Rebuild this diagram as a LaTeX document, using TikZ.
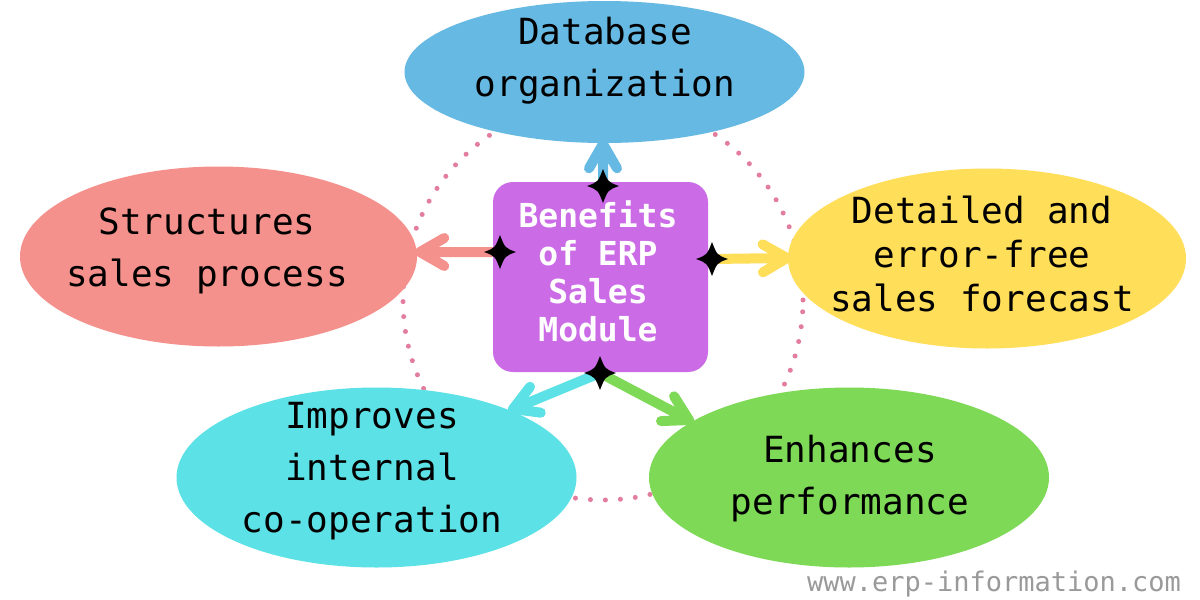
\documentclass[tikz,border=0pt]{standalone}
\usepackage{fontspec}
\setmonofont{DejaVu Sans Mono}
\usetikzlibrary{shapes.geometric,calc}
\definecolor{cblue}{HTML}{66B9E2}
\definecolor{csalmon}{HTML}{F5918D}
\definecolor{cyellow}{HTML}{FFDE59}
\definecolor{ccyan}{HTML}{5CE1E6}
\definecolor{cgreen}{HTML}{7ED957}
\definecolor{cpurple}{HTML}{CB6CE6}
\definecolor{cdots}{HTML}{E27D9E}
\definecolor{cmark}{HTML}{9A9A9A}
\tikzset{
  bubble/.style={ellipse, inner sep=0pt, minimum width=400pt, minimum height=180pt},
  bubbletext/.style={align=center, text=black, inner sep=0pt,
    font=\ttfamily\fontsize{36}{52}\selectfont},
  conn/.style={line width=10pt, line cap=round, line join=round},
  sparkle/.pic={\fill[black] (16,0) .. controls (5,4) .. (0,17)
     .. controls (-5,4) .. (-16,0) .. controls (-5,-4) .. (0,-17)
     .. controls (5,-4) .. (16,0) -- cycle;}
}
\newcommand{\connector}[3]{%
  \draw[conn, #1] (#2) -- (#3)
    ($(#3)!28pt!30:(#2)$) -- (#3) -- ($(#3)!28pt!-30:(#2)$);}
\begin{document}
\begin{tikzpicture}[x=1pt,y=-1pt]
\useasboundingbox (0,0) rectangle (1200,600);
\fill[white] (0,0) rectangle (1200,600);
% dotted circle
\draw[cdots, line width=5pt, line cap=round, dash pattern=on 0pt off 15pt]
  (603,300) circle[radius=200pt];
% ellipses
\node[bubble, fill=cblue, minimum height=142pt] (top) at (604.5,72) {};
\node[bubble, fill=csalmon, minimum width=397pt] (left) at (218.5,256.5) {};
\node[bubble, fill=cyellow, minimum width=398pt] (right) at (987,258.5) {};
\node[bubble, fill=ccyan] (bl) at (376.5,477.5) {};
\node[bubble, fill=cgreen] (br) at (849,477.5) {};
% texts
\node[bubbletext] (toptext) at (605,61) {Database\\organization};
\node[bubbletext] (lefttext) at (207,251) {Structures\\sales process};
\node[bubbletext, font=\ttfamily\fontsize{36}{44}\selectfont] (righttext) at (982,254) {Detailed and\\error-free\\sales forecast};
\node[bubbletext] (bltext) at (372,471) {Improves\\internal\\co-operation};
\node[bubbletext] (brtext) at (850,479) {Enhances\\performance};
% star positions and arrow tips
\coordinate (s-top) at (603,186);
\coordinate (s-left) at (500,252);
\coordinate (s-right) at (712,259);
\coordinate (s-bot) at (600,373);
\coordinate (t-top) at (603,144);
\coordinate (t-left) at (420,252);
\coordinate (t-right) at (787,258);
\coordinate (t-bl) at (513,409);
\coordinate (t-br) at (689,420);
% connectors
\connector{cblue}{s-top}{t-top}
\connector{csalmon}{s-left}{t-left}
\connector{cyellow}{s-right}{t-right}
\connector{ccyan}{s-bot}{t-bl}
\connector{cgreen}{s-bot}{t-br}
% centre box
\node[fill=cpurple, rounded corners=20pt, minimum width=215pt, minimum height=190pt, inner sep=0pt] (hub) at (600.5,277) {};
\node[text=white, align=center, inner sep=0pt,
  font=\ttfamily\bfseries\fontsize{33}{38}\selectfont] (hubtext) at (598,271) {Benefits\\of ERP\\Sales\\Module};
% stars
\pic at (s-top) {sparkle};
\pic at (s-left) {sparkle};
\pic at (s-right) {sparkle};
\pic at (s-bot) {sparkle};
% watermark
\node[text=cmark, inner sep=0pt, font=\ttfamily\fontsize{27}{30}\selectfont] (mark) at (994,584) {www.erp-information.com};
\end{tikzpicture}
\end{document}
